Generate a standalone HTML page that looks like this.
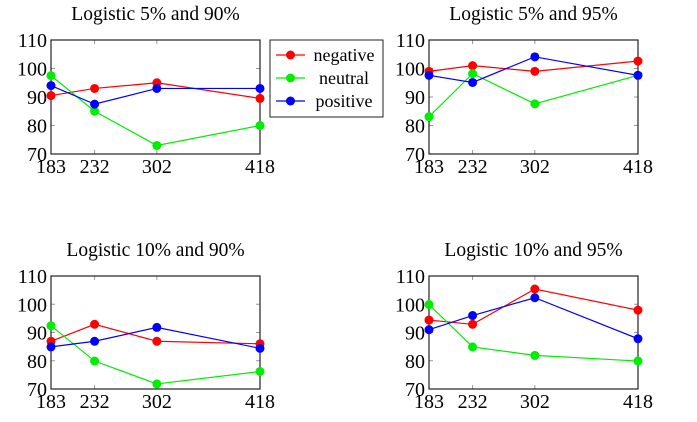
<!DOCTYPE html>
<html><head><meta charset="utf-8"><style>
html,body{margin:0;padding:0;background:#fff;}
svg text{font-family:"Liberation Serif",serif;fill:#000;}
</style></head><body>
<svg id="chart" width="697" height="417" xmlns="http://www.w3.org/2000/svg"></svg>
<script>
const categories = [183, 232, 302, 418];
const yTicks = [70, 80, 90, 100, 110];
const seriesNames = ["negative", "neutral", "positive"];
const seriesColors = ["#ff0000", "#00ee00", "#0000ff"];
const titles = ["Logistic 5% and 90%", "Logistic 5% and 95%", "Logistic 10% and 90%", "Logistic 10% and 95%"];
const p1Negative = [90.5, 93, 95, 89.5];
const p1Neutral = [97.5, 85, 73, 80];
const p1Positive = [94, 87.5, 93, 93];
const p2Negative = [99, 101, 99, 102.6];
const p2Neutral = [83.1, 98.2, 87.6, 97.6];
const p2Positive = [97.6, 95.1, 104.1, 97.6];
const p3Negative = [86.9, 92.9, 86.9, 86];
const p3Neutral = [92.4, 79.9, 71.8, 76.2];
const p3Positive = [84.9, 86.9, 91.8, 84.4];
const p4Negative = [94.4, 92.9, 105.4, 97.9];
const p4Neutral = [99.9, 84.9, 81.9, 79.9];
const p4Positive = [91, 96, 102.3, 87.8];

const panels = [
  {l:51, r:260, t:40, b:154, data:[p1Negative,p1Neutral,p1Positive]},
  {l:429, r:638, t:40, b:154, data:[p2Negative,p2Neutral,p2Positive]},
  {l:51, r:260, t:276, b:389, data:[p3Negative,p3Neutral,p3Positive]},
  {l:429, r:638, t:276, b:389, data:[p4Negative,p4Neutral,p4Positive]}
];
const NS = "http://www.w3.org/2000/svg";
const svg = document.getElementById('chart');
function mk(tag, attrs, parent){
  const e = document.createElementNS(NS, tag);
  for (const k in attrs) e.setAttribute(k, attrs[k]);
  (parent||svg).appendChild(e);
  return e;
}
panels.forEach((p, pi) => {
  const g = mk('g', {});
  
  
  const xMin = categories[0], xMax = categories[categories.length-1];
  const xs = v => p.l + (v - xMin) / (xMax - xMin) * (p.r - p.l);
  const ys = v => p.b - (v - 70) / 40 * (p.b - p.t);
  const t = mk('text', {x:(p.l+p.r)/2, y:p.t-20, 'text-anchor':'middle', 'font-size':'19.5'}, g);
  t.textContent = titles[pi];
  
  
  yTicks.forEach(v => {
    const y = ys(v);
    mk('line', {x1:p.l, x2:p.l+4, y1:y, y2:y, stroke:'#999', 'stroke-width':1}, g);
    mk('line', {x1:p.r-4, x2:p.r, y1:y, y2:y, stroke:'#999', 'stroke-width':1}, g);
    const lt = mk('text', {x:p.l-4, y:y+7, 'text-anchor':'end', 'font-size':'20'}, g);
    lt.textContent = v;
    
    
  });
  categories.forEach(c => {
    const x = xs(c);
    mk('line', {x1:x, x2:x, y1:p.t, y2:p.t+4, stroke:'#999', 'stroke-width':1}, g);
    mk('line', {x1:x, x2:x, y1:p.b-4, y2:p.b, stroke:'#999', 'stroke-width':1}, g);
    const lt = mk('text', {x:x, y:p.b+19, 'text-anchor':'middle', 'font-size':'20'}, g);
    lt.textContent = c;
    
    
  });
  const frame = mk('rect', {x:p.l, y:p.t, width:p.r-p.l, height:p.b-p.t, fill:'none', stroke:'#222', 'stroke-width':1.2}, g);
  
  
  p.data.forEach((vals, si) => {
    const pts = vals.map((v,i) => xs(categories[i]) + ',' + ys(v)).join(' ');
    const pl = mk('polyline', {points:pts, fill:'none', stroke:seriesColors[si], 'stroke-width':1.2}, g);
    
    
    vals.forEach((v,i) => {
      const c = mk('circle', {cx:xs(categories[i]), cy:ys(v), r:4.5, fill:seriesColors[si]}, g);
      
      
    });
  });
});
// legend
const lg = mk('g', {});


mk('rect', {x:270, y:40, width:113, height:77, fill:'#fff', stroke:'#222', 'stroke-width':1}, lg);
seriesNames.forEach((n, i) => {
  const y = 55 + i*23;
  const e = mk('g', {}, lg);
  
  
  mk('line', {x1:276, x2:305, y1:y, y2:y, stroke:seriesColors[i], 'stroke-width':1.2}, e);
  mk('circle', {cx:290.5, cy:y, r:4.5, fill:seriesColors[i]}, e);
  const t = mk('text', {x:344, y:y+6, 'text-anchor':'middle', 'font-size':'18'}, e);
  t.textContent = n;
});
</script>
</body></html>
